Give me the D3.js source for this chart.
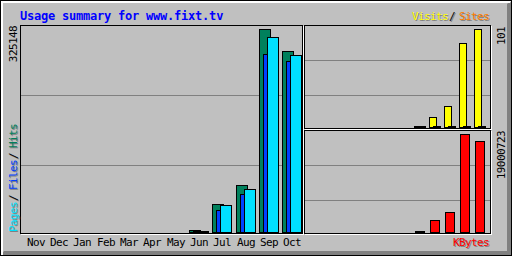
<!DOCTYPE html>
<html>
  <head>
    <script src="https://d3js.org/d3.v7.min.js"></script>
    <style>
      body {margin: 0; background: #c0c0c0;}
      svg {display: block;}
      text {font-family: "DejaVu Sans Mono", monospace; font-size: 11px; letter-spacing: -0.6px;}
      .crisp {shape-rendering: crispEdges;}
    </style>
  </head>
  <body>
    <svg id="chart" width="512" height="256"></svg>
  </body>
  <script>
      let months = ["Nov", "Dec", "Jan", "Feb", "Mar", "Apr", "May", "Jun", "Jul", "Aug", "Sep", "Oct"];
      let hits   = [0, 0, 0, 0, 0, 0, 0, 3700, 44400, 75300, 325148, 289400];
      let files  = [0, 0, 0, 0, 0, 0, 0, 1600, 34800, 60900, 285100, 273400];
      let pages  = [0, 0, 0, 0, 0, 0, 0, 2400, 42800, 68400, 311900, 283000];
      let visits = [0, 0, 0, 0, 0, 0, 0, 1, 10, 22, 87, 101];
      let sites  = [0, 0, 0, 0, 0, 0, 0, 1, 1, 1, 1, 1];
      let kbytes = [0, 0, 0, 0, 0, 0, 0, 50000, 2360000, 3908000, 19000723, 17646000];
      let title = "Usage summary for www.fixt.tv";

      let black = "#000", white = "#fff", grey = "#c0c0c0", dkgrey = "#808080";
      let colors = {hits: "#00805c", files: "#0040ff", pages: "#00e0ff",
                    visits: "#ffff00", sites: "#ff8000", kbytes: "#ff0000"};

      let svg = d3.select("#chart");

      // outer 3d frame
      svg.append("rect").attr("width", 512).attr("height", 256).attr("fill", grey);
      svg.append("path").attr("fill", dkgrey)
          .attr("d", "M511,0L511,256L0,256L4,251L507,251L507,4Z");
      svg.append("path").attr("fill", white)
          .attr("d", "M1,1L511,1L510,3L3,3L3,255L1,255Z");
      svg.append("rect").attr("class", "crisp").attr("x", 0.5).attr("y", 0.5)
          .attr("width", 511).attr("height", 255).attr("fill", "none").attr("stroke", black);

      // boxes: [x1, y1, x2, y2] in pixel columns/rows
      let mainBox = [20, 25, 302, 233], topBox = [304, 25, 490, 128], botBox = [304, 130, 490, 233];

      function draw_box(b, gridStep) {
          let g = svg.append("g").attr("class", "crisp");
          for (let y = b[1] + gridStep; y < b[3] - 5; y += gridStep) {
              g.append("line").attr("x1", b[0]).attr("x2", b[2]).attr("y1", y + 0.5).attr("y2", y + 0.5)
                  .attr("stroke", dkgrey);
          }
          g.append("rect").attr("x", b[0] + 0.5).attr("y", b[1] + 0.5)
              .attr("width", b[2] - b[0]).attr("height", b[3] - b[1])
              .attr("fill", "none").attr("stroke", black);
          g.append("path").attr("fill", "none").attr("stroke", white)
              .attr("d", `M${b[2] + 1.5},${b[1] + 1}V${b[3] + 1.5}H${b[0] + 1}`);
      }
      draw_box(mainBox, 70);
      draw_box(topBox, 35);
      draw_box(botBox, 35);

      // scales
      let xMain = d3.scaleBand().domain(months).range([25.7, 305.7]);
      let xSide = d3.scaleBand().domain(months).range([309, 489]);
      let yMain = d3.scaleLinear().domain([0, d3.max(hits)]).range([232, 29]);
      let yTop = d3.scaleLinear().domain([0, d3.max(visits)]).range([127, 29]);
      let yBot = d3.scaleLinear().domain([0, d3.max(kbytes)]).range([232, 134]);

      function draw_bars(values, xs, offset, w, ys, color) {
          let data = months.map((m, i) => ({m: m, v: values[i]})).filter(d => d.v > 0);
          svg.append("g").attr("class", "crisp").selectAll("rect").data(data).enter()
              .append("rect")
              .attr("x", d => Math.round(xs(d.m)) + offset + 0.5)
              .attr("y", d => Math.min(Math.round(ys(d.v)), ys.range()[0] - 1) + 0.5)
              .attr("width", w)
              .attr("height", d => ys.range()[0] - Math.min(Math.round(ys(d.v)), ys.range()[0] - 1))
              .attr("fill", color).attr("stroke", black);
      }
      draw_bars(hits, xMain, 0, 11, yMain, colors.hits);
      draw_bars(files, xMain, 4, 4, yMain, colors.files);
      draw_bars(pages, xMain, 8, 11, yMain, colors.pages);
      draw_bars(visits, xSide, 0, 7, yTop, colors.visits);
      draw_bars(sites, xSide, 4, 7, yTop, colors.sites);
      draw_bars(kbytes, xSide, 1, 9, yBot, colors.kbytes);

      // labels
      function label(txt, x, y, color, opts) {
          opts = opts || {};
          let t = (dx, dy, c) => {
              let el = svg.append("text").text(txt).attr("fill", c)
                  .attr("text-anchor", opts.anchor || "start");
              if (opts.up) el.attr("transform", `translate(${x + dx},${y + dy}) rotate(-90)`);
              else el.attr("x", x + dx).attr("y", y + dy);
              if (opts.bold) el.attr("font-weight", "bold").style("font-size", "12px").style("letter-spacing", "-0.22px");
          };
          if (opts.shadow) t(1, 1, dkgrey);
          t(0, 0, color);
      }

      label(title, 20, 19.5, "#0000ff", {bold: true});

      label("Visits", 412, 20, colors.visits, {shadow: true});
      label("/", 449, 20, black, {shadow: true});
      label("Sites", 459, 20, colors.sites, {shadow: true});

      label("Pages", 17, 232, colors.pages, {up: true, shadow: true});
      label("/", 17, 201, black, {up: true, shadow: true});
      label("Files", 17, 190, colors.files, {up: true, shadow: true});
      label("/", 17, 159, black, {up: true, shadow: true});
      label("Hits", 17, 148, colors.hits, {up: true, shadow: true});

      label(d3.max(hits), 17, 26, black, {up: true, anchor: "end"});
      label(d3.max(visits), 505, 27, black, {up: true, anchor: "end"});
      label(d3.max(kbytes), 505, 131, black, {up: true, anchor: "end"});

      months.forEach(m => label(m, Math.round(xMain(m)) + 1, 246, black));

      label("KBytes", 453, 246, colors.kbytes, {shadow: true});
  </script>
</html>
